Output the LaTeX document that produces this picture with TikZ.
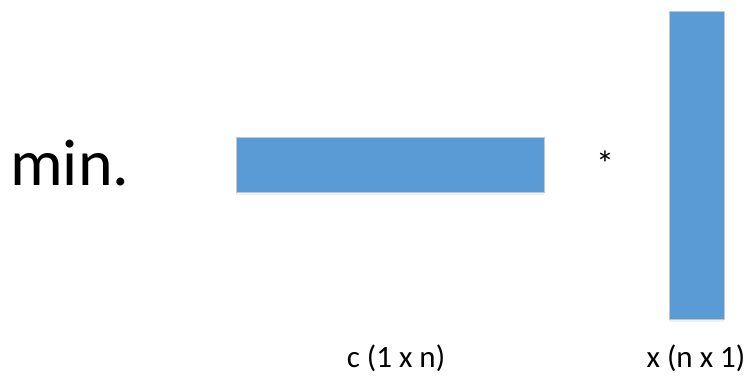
\documentclass[tikz,border=0pt]{standalone}
\usepackage{fontspec}
\setmainfont{Carlito}
\usetikzlibrary{positioning,shadows}

\definecolor{barblue}{HTML}{5B9BD5}

\begin{document}
\begin{tikzpicture}[
                    x=1pt, y=-1pt,
                    bar/.style={draw=gray!45, line width=0.8pt, fill=barblue, inner sep=0pt,
                                drop shadow={shadow xshift=0pt, shadow yshift=-3pt, opacity=0.12, fill=barblue}},
                    lbl/.style={font=\fontsize{31}{35}\selectfont, inner sep=0pt}
                ]
                    \useasboundingbox (0,0) rectangle (751,376);
                    \node[font=\fontsize{66}{70}\selectfont, inner sep=0pt, anchor=base west] (minlbl) at (10,185) {min.};
                    \node[bar, minimum width=308pt, minimum height=55pt] (cbar) at (390,164.5) {};
                    \node[bar, minimum width=55pt, minimum height=308pt] (xbar) at (696.5,165) {};
                    \node[font=\fontsize{36}{40}\selectfont, inner sep=0pt] (times) at (605,164) {*};
                    \node[lbl, anchor=base] (clbl) at (396,367) {c (1 x n)};
                    \node[lbl, anchor=base] (xlbl) at (696,367) {x (n x 1)};
                \end{tikzpicture}
\end{document}
